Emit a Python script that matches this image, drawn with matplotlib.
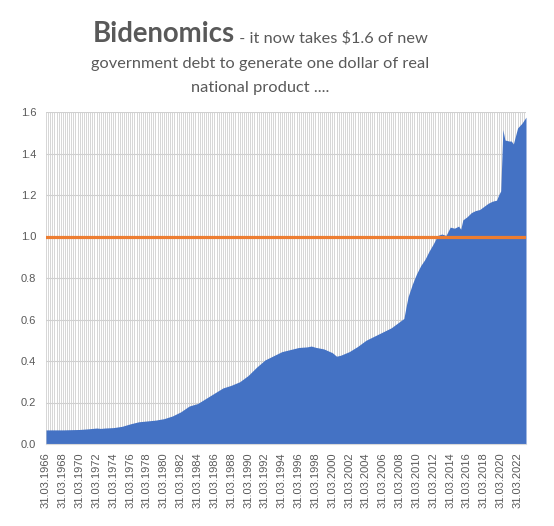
import matplotlib
matplotlib.use('Agg')
import matplotlib.pyplot as plt
import numpy as np

# ---- data ----
years = [1966.0, 1968.0, 1970.0, 1971.0, 1972.0, 1972.5, 1973.0, 1974.0, 1975.0,
         1976.0, 1977.0, 1978.0, 1979.0, 1980.0, 1981.0, 1982.0, 1983.0, 1984.0,
         1985.0, 1986.0, 1987.0, 1988.0, 1989.0, 1990.0, 1991.0, 1992.0, 1993.0,
         1994.0, 1995.0, 1996.0, 1997.0, 1997.5, 1998.0, 1999.0, 2000.0, 2000.5,
         2001.0, 2002.0, 2003.0, 2004.0, 2005.0, 2006.0, 2007.0, 2008.0, 2008.5,
         2008.75, 2009.0, 2009.5, 2010.0, 2010.5, 2011.0, 2011.5, 2012.0, 2012.5,
         2013.0, 2013.5, 2014.0, 2014.5, 2015.0, 2015.25, 2015.5, 2016.0, 2016.5,
         2017.0, 2017.5, 2018.0, 2018.5, 2019.0, 2019.5, 2019.75, 2020.0, 2020.25,
         2020.5, 2021.0, 2021.25, 2021.5, 2022.0, 2022.5, 2023.0]
values = [0.068, 0.068, 0.070, 0.073, 0.077, 0.075, 0.077, 0.079, 0.085,
          0.097, 0.107, 0.111, 0.115, 0.122, 0.135, 0.155, 0.183, 0.195,
          0.220, 0.245, 0.270, 0.283, 0.300, 0.330, 0.370, 0.405, 0.425,
          0.445, 0.455, 0.465, 0.468, 0.472, 0.466, 0.458, 0.440, 0.423,
          0.428, 0.445, 0.470, 0.500, 0.520, 0.540, 0.560, 0.590, 0.605,
          0.660, 0.710, 0.770, 0.820, 0.860, 0.890, 0.930, 0.965, 1.005,
          1.012, 1.005, 1.045, 1.040, 1.050, 1.035, 1.080, 1.095, 1.115,
          1.125, 1.130, 1.145, 1.160, 1.170, 1.175, 1.200, 1.220, 1.515,
          1.465, 1.460, 1.460, 1.446, 1.523, 1.545, 1.575]
tick_labels = ['31.03.1966', '31.03.1968', '31.03.1970', '31.03.1972', '31.03.1974',
               '31.03.1976', '31.03.1978', '31.03.1980', '31.03.1982', '31.03.1984',
               '31.03.1986', '31.03.1988', '31.03.1990', '31.03.1992', '31.03.1994',
               '31.03.1996', '31.03.1998', '31.03.2000', '31.03.2002', '31.03.2004',
               '31.03.2006', '31.03.2008', '31.03.2010', '31.03.2012', '31.03.2014',
               '31.03.2016', '31.03.2018', '31.03.2020', '31.03.2022']
first_year = 1966
last_year = 2023
threshold = 1.0
title_bold = 'Bidenomics'
title_rest1 = ' - it now takes $1.6 of new'
title_line2 = 'government debt to generate one dollar of real'
title_line3 = 'national product ....'

W, H = 554, 526
fig = plt.figure(figsize=(W / 100, H / 100), dpi=100)
ax = fig.add_axes([46 / W, 1 - 444 / H, 480 / W, 332 / H])

qx = (np.array(years) - first_year) * 4
ax.fill_between(qx, values, 0, color='#4472C4', lw=0, zorder=2)
ax.axhline(threshold, color='#ED7D31', lw=2.3, zorder=3)

nq = int((last_year - first_year) * 4)
ax.set_xlim(0, nq)
ax.set_ylim(0, 1.6)
ax.set_xticks(np.arange(0, nq + 1, 1), minor=True)
ax.set_xticks(np.arange(0, 8 * len(tick_labels), 8))
ax.set_xticklabels(tick_labels, rotation=90, fontsize=8, color='#595959',
                   family='Liberation Sans')
ax.set_yticks(np.arange(0, 1.61, 0.2))
ax.set_yticklabels(['%.1f' % v for v in np.arange(0, 1.61, 0.2)], fontsize=8,
                   color='#595959', family='Liberation Sans')
ax.tick_params(axis='both', which='both', length=0)
ax.tick_params(axis='x', pad=6)
ax.tick_params(axis='y', pad=7)
ax.grid(which='both', axis='x', color='#D0D0D0', lw=0.6, zorder=0)
ax.grid(which='major', axis='y', color='#D0D0D0', lw=0.8, zorder=0)
ax.set_axisbelow(True)
for s in ['left', 'right', 'top']:
    ax.spines[s].set_visible(False)
ax.spines['bottom'].set_color('#D9D9D9')

# ---- title ----
fig.canvas.draw()
r = fig.canvas.get_renderer()
tfont = 'Lato'
tcol = '#595959'

def fit(text, target, weight, y):
    t = fig.text(0, y, text, fontsize=12, fontweight=weight, family=tfont,
                 color=tcol, va='baseline', ha='left')
    w = t.get_window_extent(r).width
    t.set_fontsize(12 * target / w)
    return t

cx = 260
tb = fit(title_bold, 141.6, 'bold', 1 - 42 / H)
t2 = fit(title_line2, 336.7, 'normal', 1 - 68 / H)
fs = t2.get_fontsize()
t1 = fig.text(0, 1 - 42 / H, title_rest1, fontsize=fs, family=tfont, color=tcol,
              va='baseline', ha='left')
t3 = fig.text(cx / W, 1 - 92 / H, title_line3, fontsize=fs, family=tfont, color=tcol,
              va='baseline', ha='center')
t2.set_ha('center')
t2.set_x(cx / W)
wb = tb.get_window_extent(r).width
w1 = t1.get_window_extent(r).width
x0 = cx - (wb + w1) / 2
tb.set_x(x0 / W)
t1.set_x((x0 + wb) / W)

fig.savefig('out.png', dpi=100)
